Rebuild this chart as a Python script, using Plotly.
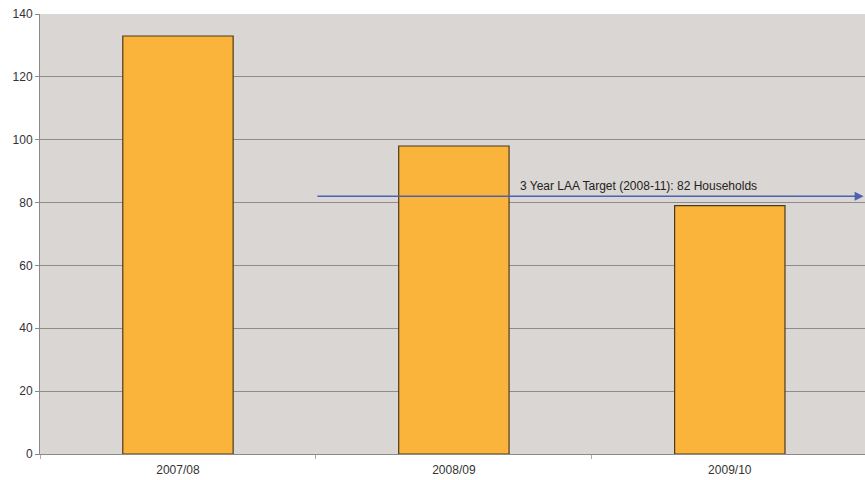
import plotly.graph_objects as go

categories = ["2007/08", "2008/09", "2009/10"]
values = [133, 98, 79]
target_value = 82
target_label = "3 Year LAA Target (2008-11): 82 Households"
y_ticks = [0, 20, 40, 60, 80, 100, 120, 140]

fig = go.Figure()
fig.add_trace(go.Bar(
    x=categories, y=values,
    marker=dict(color="#FBB43B", line=dict(color="#4d3a1c", width=1.2)),
    width=0.4,
))

# target line with arrow (from middle between 2007/08 and 2008/09 to right edge)
fig.add_annotation(
    x=2.485, y=target_value, ax=0.5, ay=target_value,
    xref="x", yref="y", axref="x", ayref="y",
    text="", showarrow=True, arrowhead=2, arrowsize=1.2, arrowwidth=1.5,
    arrowcolor="#4a62b0",
)
fig.add_annotation(
    x=1.67, y=target_value, xref="x", yref="y",
    text=target_label, showarrow=False, yshift=10,
    font=dict(family="Arial, Liberation Sans", size=12, color="#222"),
)

fig.update_layout(
    width=865, height=480,
    margin=dict(l=40, r=0, t=14, b=26),
    paper_bgcolor="white",
    plot_bgcolor="#d9d6d3",
    showlegend=False,
    font=dict(family="Arial, Liberation Sans", size=12, color="#333"),
    bargap=0.6,
)
fig.update_xaxes(
    range=[-0.5, 2.49], showgrid=False, automargin=False,
    showline=True, linecolor="#8a8a8a", linewidth=1,
    ticks="outside", tickson="boundaries", ticklen=4, tickcolor="#aaa",
    ticklabelstandoff=5,
    tickfont=dict(size=12, color="#333"),
)
fig.update_yaxes(
    range=[0, 140], tickvals=y_ticks, automargin=False,
    showgrid=True, gridcolor="#8c8c8c", gridwidth=1,
    showline=True, linecolor="#8a8a8a", linewidth=1,
    ticks="outside", ticklen=4, tickcolor="#8a8a8a",
    tickfont=dict(size=12, color="#333"),
    ticklabeloverflow="allow",
    zeroline=False,
)

fig.write_html(
    "out.html",
    config={"displayModeBar": False},
    post_script="document.body.style.margin='0';document.body.style.overflow='hidden';",
)
